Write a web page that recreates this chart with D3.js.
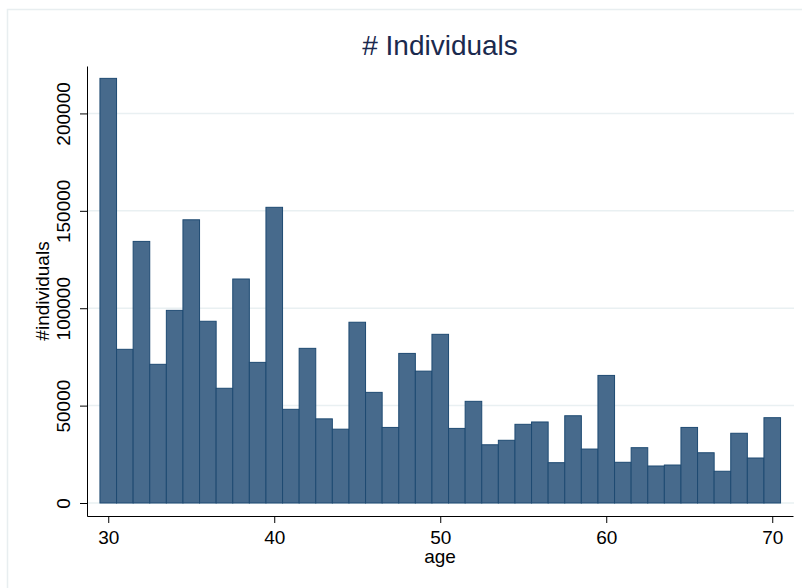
<!DOCTYPE html>
<html>
<head>
<meta charset="utf-8">
<script src="https://cdn.jsdelivr.net/npm/d3@7"></script>
<style>
  body { margin: 0; background: #fff; }
  svg { display: block; font-family: "Liberation Sans", Arial, Helvetica, sans-serif; }
  .axis path, .axis line { stroke: #000; stroke-width: 1; }
  .axis text { fill: #000; font-size: 19px; }
</style>
</head>
<body>
<div id="chart"></div>
<script>
// ages 30..70, one bar per year
const ages = d3.range(30, 71);
const counts = [
  218000, 78900, 134300, 71200, 98900, 145400, 93300, 58900, 115000, 72200,
  151800, 48100, 79400, 43200, 37900, 92800, 56800, 38800, 76800, 67700,
  86600, 38300, 52200, 29900, 32200, 40400, 41600, 20700, 44800, 27700,
  65500, 20900, 28400, 19000, 19500, 38800, 25800, 16300, 35800, 23100,
  43800
];
const yTicks = [0, 50000, 100000, 150000, 200000];
const xTicks = [30, 40, 50, 60, 70];

const data = ages.map((a, i) => ({ age: a, n: counts[i] }));

const width = 802, height = 588;

const svg = d3.select("#chart")
  .append("svg")
  .attr("width", width)
  .attr("height", height);

// outer graph region border (only top/left visible)
svg.append("rect")
  .attr("x", 7.5).attr("y", 9.5)
  .attr("width", 820).attr("height", 600)
  .attr("fill", "#fff")
  .attr("stroke", "#e8eef0")
  .attr("stroke-width", 1.5);

const x = d3.scaleLinear().domain([28.72, 71.25]).range([87, 793]);
const y = d3.scaleLinear().domain([-6670, 224350]).range([516, 66]);

// gridlines
svg.append("g")
  .selectAll("line")
  .data(yTicks)
  .join("line")
  .attr("x1", 88).attr("x2", 794)
  .attr("y1", d => y(d)).attr("y2", d => y(d))
  .attr("stroke", "#e9f0f2")
  .attr("stroke-width", 1.5);

// bars
svg.append("g")
  .selectAll("rect")
  .data(data)
  .join("rect")
  .attr("x", d => x(d.age - 0.5))
  .attr("width", d => x(d.age + 0.5) - x(d.age - 0.5))
  .attr("y", d => y(d.n))
  .attr("height", d => y(0) - y(d.n))
  .attr("fill", "#476a8c")
  .attr("stroke", "#1e4a72")
  .attr("stroke-width", 1);

// y axis
const yAxis = svg.append("g")
  .attr("class", "axis")
  .attr("transform", "translate(87,0)")
  .call(d3.axisLeft(y).tickValues(yTicks).tickSize(7).tickSizeOuter(0).tickFormat(d3.format("d")));
yAxis.selectAll("text")
  .attr("transform", "rotate(-90)")
  .attr("x", 0).attr("y", -17)
  .attr("dy", 0)
  .attr("text-anchor", "middle");

// x axis
const xAxis = svg.append("g")
  .attr("class", "axis")
  .attr("transform", "translate(0,516)")
  .call(d3.axisBottom(x).tickValues(xTicks).tickSize(7).tickSizeOuter(0));
xAxis.selectAll("text").attr("y", 28).attr("dy", 0);

// titles
svg.append("text")
  .attr("x", 440).attr("y", 55)
  .attr("text-anchor", "middle")
  .attr("fill", "#1b2a4e")
  .style("font-size", "28px")
  .text("# Individuals");

svg.append("text")
  .attr("x", 440).attr("y", 563)
  .attr("text-anchor", "middle")
  .attr("fill", "#000")
  .style("font-size", "19px")
  .text("age");

svg.append("text")
  .attr("transform", "translate(49,291) rotate(-90)")
  .attr("text-anchor", "middle")
  .attr("fill", "#000")
  .style("font-size", "19px")
  .text("#individuals");
</script>
</body>
</html>
